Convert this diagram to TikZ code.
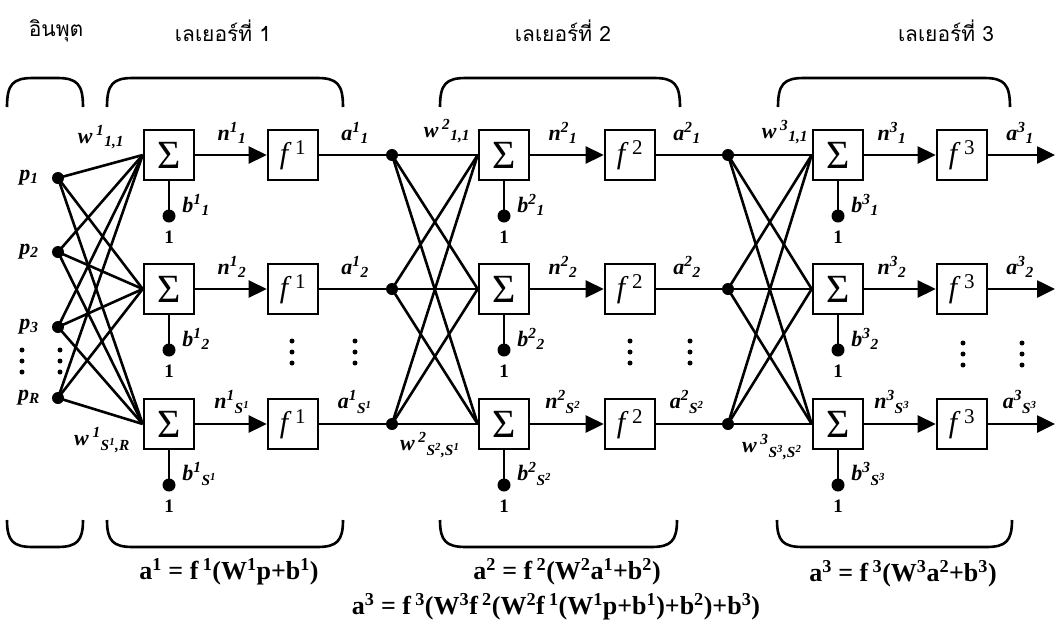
\documentclass[tikz,border=0pt]{standalone}
\usepackage{fontspec}
\setmainfont{Liberation Serif}
\newfontfamily\thaifont[Script=Thai]{Loma}
\usetikzlibrary{arrows.meta}
\begin{document}
\begin{tikzpicture}[x=1pt,y=-1pt,line width=2.6pt,
 sumbox/.style={draw,minimum width=50pt,minimum height=50pt,inner sep=0pt,font=\fontsize{40}{40}\selectfont},
 actbox/.style={draw,minimum width=50pt,minimum height=50pt,inner sep=0pt,font=\fontsize{30}{30}\selectfont},
 jdot/.style={circle,fill,inner sep=0pt,minimum size=12pt},
 lbl/.style={font=\fontsize{22}{22}\selectfont\bfseries\itshape,inner sep=0pt},
 one/.style={font=\fontsize{19}{19}\selectfont\bfseries,inner sep=0pt},
 eq/.style={font=\fontsize{26}{26}\selectfont\bfseries,inner sep=0pt},
 ttl/.style={font=\fontsize{21}{21}\selectfont\thaifont,inner sep=0pt},
 arr/.style={-{Triangle[length=18pt,width=17pt]}}
]
\useasboundingbox (0,0) rectangle (1058,635);
\fill[white] (0,0) rectangle (1058,635);

% titles
\node[ttl] (tin) at (56,31) {อินพุต};
\node[ttl] (tl1) at (223,31) {เลเยอร์ที่ 1};
\node[ttl] (tl2) at (563,31) {เลเยอร์ที่ 2};
\node[ttl] (tl3) at (946,31) {เลเยอร์ที่ 3};

% brackets
\foreach \a/\b in {7/83, 107/343, 440/680, 778/1010} {
  \draw ({\a},107) .. controls ({\a},84) and ({\a+6},78) .. ({\a+26},78) -- ({\b-26},78) .. controls ({\b-6},78) and ({\b},84) .. ({\b},107);
}
\foreach \a/\b in {7/83, 107/343, 440/677, 777/1012} {
  \draw ({\a},520) .. controls ({\a},541) and ({\a+6},547) .. ({\a+26},547) -- ({\b-26},547) .. controls ({\b-6},547) and ({\b},541) .. ({\b},520);
}

% inputs
\foreach \i/\y/\t in {1/178/1, 2/252/2, 3/327/3, R/398/R} {
  \node[jdot] (p\i) at (58,\y) {};
  \node[lbl] (pl\i) at (29,\y) {p\textsubscript{\t}};
}

% layers
\foreach \L/\xs/\xf/\nx/\ax in {1/169/293/232/355, 2/504/630/563/687, 3/838/962/892/1020} {
  \foreach \r/\y/\sub in {1/155/1, 2/289/2, 3/424/{S\textsuperscript{\L}}} {
    \node[sumbox] (s\L\r) at (\xs,\y) {Σ};
    \node[actbox] (f\L\r) at (\xf,\y) {\textit{f}\textsuperscript{\,\L}};
    \node[jdot,minimum size=13pt] (bd\L\r) at (\xs,{\y+61}) {};
    \node[one] (one\L\r) at (\xs,{\y+82}) {1};
    \draw (s\L\r.south) -- (bd\L\r.center);
    \draw[arr] (s\L\r.east) -- (f\L\r.west);
    \node[lbl] (nl\L\r) at (\nx,{\y-22}) {n\textsuperscript{\L}\textsubscript{\sub}};
    \node[lbl] (al\L\r) at (\ax,{\y-22}) {a\textsuperscript{\L}\textsubscript{\sub}};
    \node[lbl,anchor=west] (bl\L\r) at ({\xs+12},{\y+50}) {b\textsuperscript{\L}\textsubscript{\sub}};
  }
}

% split dots of layers 2 and 3
\foreach \r/\y in {1/155, 2/289, 3/424} {
  \node[jdot] (d2\r) at (392,\y) {};
  \node[jdot] (d3\r) at (728,\y) {};
  \coordinate (o\r) at (1055,\y);
}

% weights layer 1
\foreach \i in {1,2,3,R} {
  \foreach \j in {1,2,3} {
    \draw (p\i.center) -- (s1\j.west);
  }
}
% weights layers 2 and 3
\foreach \L/\P in {2/1, 3/2} {
  \foreach \i in {1,2,3} {
    \draw (f\P\i.east) -- (d\L\i.center);
    \foreach \j in {1,2,3} {
      \draw (d\L\i.center) -- (s\L\j.west);
    }
  }
}
% outputs
\foreach \r in {1,2,3} {
  \draw[arr] (f3\r.east) -- (o\r);
}

% vertical ellipses
\foreach \x/\yb in {22/350, 60/350, 292/341, 355/341, 630/341, 690/341, 963/343, 1022/343} {
  \foreach \k in {0,11,22} {
    \fill (\x,{\yb+\k}) circle (2.5pt);
  }
}

% weight labels
\node[lbl] (w1a) at (101,137) {w\,\textsuperscript{1}\textsubscript{1,1}};
\node[lbl] (w2a) at (447,131) {w\,\textsuperscript{2}\textsubscript{1,1}};
\node[lbl] (w3a) at (785,132) {w\,\textsuperscript{3}\textsubscript{1,1}};
\node[lbl] (w1b) at (102,440) {w\,\textsuperscript{1}\textsubscript{S\textsuperscript{1},R}};
\node[lbl] (w2b) at (430,445) {w\,\textsuperscript{2}\textsubscript{S\textsuperscript{2},S\textsuperscript{1}}};
\node[lbl] (w3b) at (772,447) {w\,\textsuperscript{3}\textsubscript{S\textsuperscript{3},S\textsuperscript{2}}};

% equations
\node[eq] (e1) at (229,572) {a\textsuperscript{1} = f\,\textsuperscript{1}(W\textsuperscript{1}p+b\textsuperscript{1})};
\node[eq] (e2) at (567,572) {a\textsuperscript{2} = f\,\textsuperscript{2}(W\textsuperscript{2}a\textsuperscript{1}+b\textsuperscript{2})};
\node[eq] (e3) at (903,574) {a\textsuperscript{3} = f\,\textsuperscript{3}(W\textsuperscript{3}a\textsuperscript{2}+b\textsuperscript{3})};
\node[eq] (e4) at (556,607) {a\textsuperscript{3} = f\,\textsuperscript{3}(W\textsuperscript{3}f\,\textsuperscript{2}(W\textsuperscript{2}f\,\textsuperscript{1}(W\textsuperscript{1}p+b\textsuperscript{1})+b\textsuperscript{2})+b\textsuperscript{3})};
\end{tikzpicture}
\end{document}
